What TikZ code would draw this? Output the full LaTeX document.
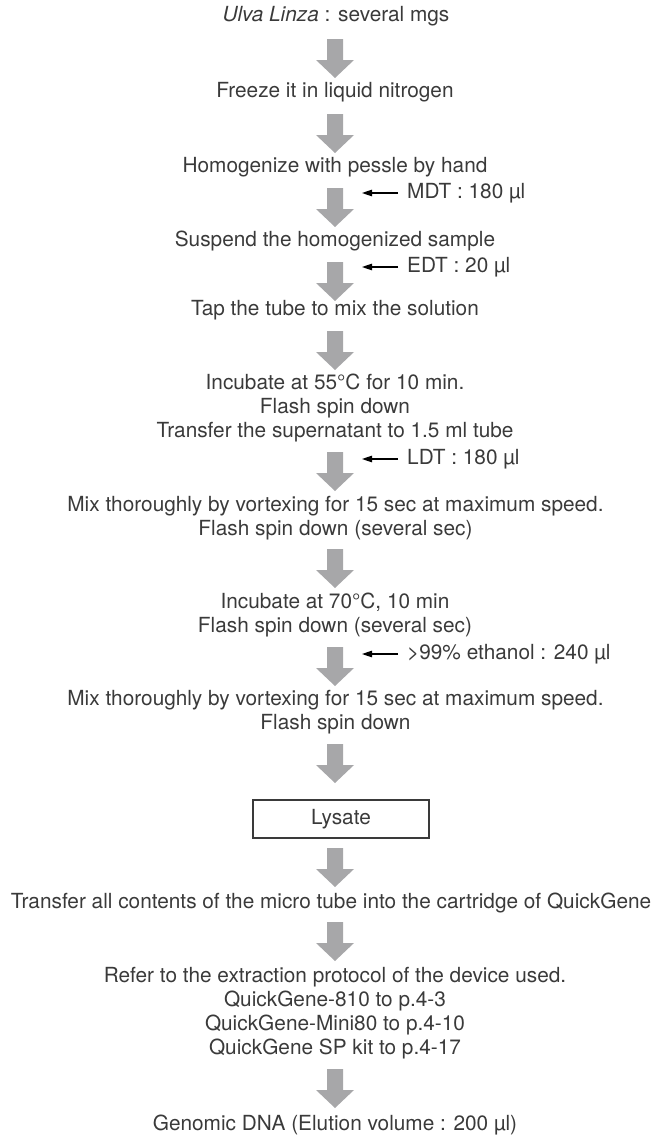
\documentclass[tikz,border=0pt]{standalone}
\usepackage{fontspec}
\setmainfont{TeX Gyre Heros}
\usetikzlibrary{arrows.meta}
\definecolor{txtgray}{HTML}{3A3A3A}
\definecolor{arrgray}{HTML}{A7A7A9}
\tikzset{
  step text/.style={text=txtgray, font=\fontsize{20.8}{24}\selectfont, align=center, inner sep=0pt},
  side text/.style={text=txtgray, font=\fontsize{20.8}{24}\selectfont, anchor=west, inner sep=0pt},
  bigarrow/.pic={\fill[arrgray] (-8,0) -- (8,0) -- (8,21) -- (19,21) -- (0,39) -- (-19,21) -- (-8,21) -- cycle;},
  addarrow/.style={draw=black, line width=1.1pt, -{Triangle[length=10pt,width=6.5pt]}},
  lysbox/.style={draw=txtgray, line width=1.1pt, minimum width=176pt, minimum height=38pt, inner sep=0pt, text=txtgray, font=\fontsize{20.8}{24}\selectfont}
}
\begin{document}
\begin{tikzpicture}[x=1pt,y=-1pt]
\useasboundingbox (0,0) rectangle (657,1135);
% text nodes
\node[step text] (t1) at (336,16) {\textit{Ulva Linza} : several mgs};
\node[step text] (t2) at (335,92) {Freeze it in liquid nitrogen};
\node[step text] (t3) at (335,167) {Homogenize with pessle by hand};
\node[step text] (t4) at (335,241) {Suspend the homogenized sample};
\node[step text] (t5) at (335,310) {Tap the tube to mix the solution};
\node[step text] (t6) at (335,408) {Incubate at 55°C for 10 min.\\Flash spin down\\Transfer the supernatant to 1.5 ml tube};
\node[step text] (t7) at (335.5,518) {Mix thoroughly by vortexing for 15 sec at maximum speed.\\Flash spin down (several sec)};
\node[step text] (t8) at (335,615) {Incubate at 70°C, 10 min\\Flash spin down (several sec)};
\node[step text] (t9) at (335.5,712) {Mix thoroughly by vortexing for 15 sec at maximum speed.\\Flash spin down};
\node[lysbox] (t10) at (341,819) {Lysate};
\node[step text] (t11) at (331,903) {Transfer all contents of the micro tube into the cartridge of QuickGene};
\node[step text] (t12) at (335,1013) {Refer to the extraction protocol of the device used.\\QuickGene-810 to p.4-3\\QuickGene-Mini80 to p.4-10\\QuickGene SP kit to p.4-17};
\node[step text] (t13) at (335,1125) {Genomic DNA (Elution volume : 200 µl)};
% block arrows
\foreach \yy in {39,114,188,262,331,452,549,647,744,848,922,1069}
  \pic at (335,\yy) {bigarrow};
% side additions
\coordinate (s1) at (398,193);
\coordinate (e1) at (362,193);
\draw[addarrow] (s1) -- (e1);
\node[side text] (l1) at (407,193) {MDT : 180 µl};
\coordinate (s2) at (398,267);
\coordinate (e2) at (362,267);
\draw[addarrow] (s2) -- (e2);
\node[side text] (l2) at (407,267) {EDT : 20 µl};
\coordinate (s3) at (398,459);
\coordinate (e3) at (362,459);
\draw[addarrow] (s3) -- (e3);
\node[side text] (l3) at (407,459) {LDT : 180 µl};
\coordinate (s4) at (398,654);
\coordinate (e4) at (362,654);
\draw[addarrow] (s4) -- (e4);
\node[side text] (l4) at (407,654) {>99\% ethanol : 240 µl};
\end{tikzpicture}
\end{document}
